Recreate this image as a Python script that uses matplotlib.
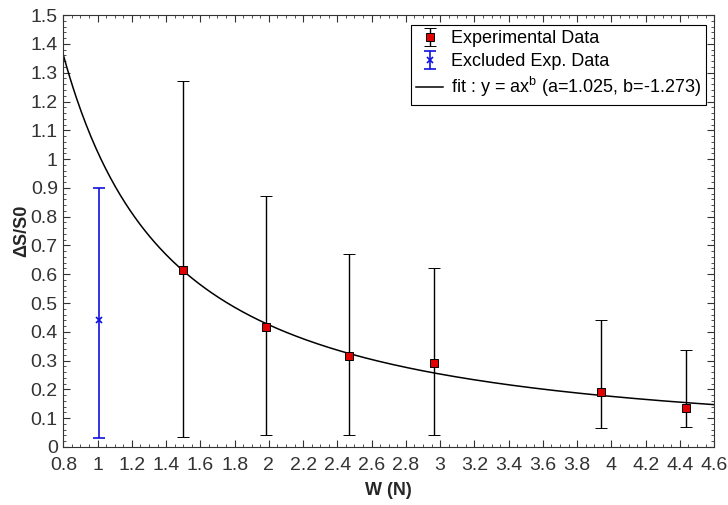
import numpy as np
import matplotlib
matplotlib.use('Agg')
import matplotlib.pyplot as plt
from matplotlib.ticker import MultipleLocator

plt.rcParams['font.family'] = ['Liberation Sans', 'DejaVu Sans']

# experimental points (W in N, dS/S0) with error bar bounds
w_exp   = [1.50, 1.985, 2.47, 2.965, 3.94, 4.435]
ds_exp  = [0.615, 0.415, 0.315, 0.29, 0.19, 0.135]
lo_exp  = [0.035, 0.04, 0.04, 0.04, 0.065, 0.07]
hi_exp  = [1.27, 0.87, 0.67, 0.62, 0.44, 0.335]

# excluded point
w_excl  = [1.01]
ds_excl = [0.44]
lo_excl = [0.03]
hi_excl = [0.90]

# fitted power law
fit_a = 1.025
fit_b = -1.273


def main():
    fig = plt.figure(figsize=(7.28, 5.05), dpi=100)
    ax = fig.add_axes([0.087, 0.115, 0.894, 0.855])

    w_fit = np.linspace(0.8, 4.6, 400)
    ax.plot(w_fit, fit_a * w_fit**fit_b, color='black', linewidth=1.1,
            label=f'fit : y = ax$^{{\\mathregular{{b}}}}$ (a={fit_a}, b={fit_b})', zorder=2)

    yerr_exp = [np.array(ds_exp) - np.array(lo_exp), np.array(hi_exp) - np.array(ds_exp)]
    ax.errorbar(w_exp, ds_exp, yerr=yerr_exp, fmt='s', color='black', ecolor='black',
                markerfacecolor='#e00000', markeredgecolor='black', markersize=5.5,
                markeredgewidth=0.7, elinewidth=1.0, capsize=4.5, capthick=1.0,
                label='Experimental Data', zorder=3)

    yerr_excl = [np.array(ds_excl) - np.array(lo_excl), np.array(hi_excl) - np.array(ds_excl)]
    ax.errorbar(w_excl, ds_excl, yerr=yerr_excl, fmt='x', color='#1010e0',
                markersize=5, markeredgewidth=1.2, elinewidth=1.2, capsize=4.5,
                capthick=1.2, label='Excluded Exp. Data', zorder=3)

    ax.set_xlim(0.8, 4.6)
    ax.set_ylim(0, 1.5)
    ax.xaxis.set_major_locator(MultipleLocator(0.2))
    ax.xaxis.set_minor_locator(MultipleLocator(0.05))
    ax.yaxis.set_major_locator(MultipleLocator(0.1))
    ax.yaxis.set_minor_locator(MultipleLocator(0.02))
    ax.set_xticklabels([f'{v:g}' for v in ax.get_xticks()])
    ax.set_yticklabels([f'{v:g}' for v in ax.get_yticks()])
    ax.tick_params(which='both', direction='in', top=True, right=True,
                   labelsize=14, labelcolor='#333333', color='#333333')
    ax.tick_params(which='major', length=5)
    ax.tick_params(which='minor', length=2.5)
    ax.tick_params(axis='x', pad=7)
    ax.tick_params(axis='y', pad=4)
    for s in ax.spines.values():
        s.set_color('#333333')

    ax.set_xlabel('W (N)', fontsize=13, fontweight='bold', color='#262626', labelpad=6)
    ax.set_ylabel('ΔS/S0', fontsize=13, fontweight='bold', color='#262626', labelpad=0)

    h, l = ax.get_legend_handles_labels()
    order = [1, 2, 0]
    leg = ax.legend([h[i] for i in order], [l[i] for i in order], loc='upper right',
                    bbox_to_anchor=(0.988, 0.977), fontsize=13, frameon=True,
                    fancybox=False, edgecolor='black', framealpha=1,
                    handlelength=1.5, handletextpad=0.4, borderpad=0.3,
                    labelspacing=0.3, borderaxespad=0)
    leg.get_frame().set_linewidth(0.8)

    fig.savefig('out.png', dpi=100)


if __name__ == '__main__':
    main()
